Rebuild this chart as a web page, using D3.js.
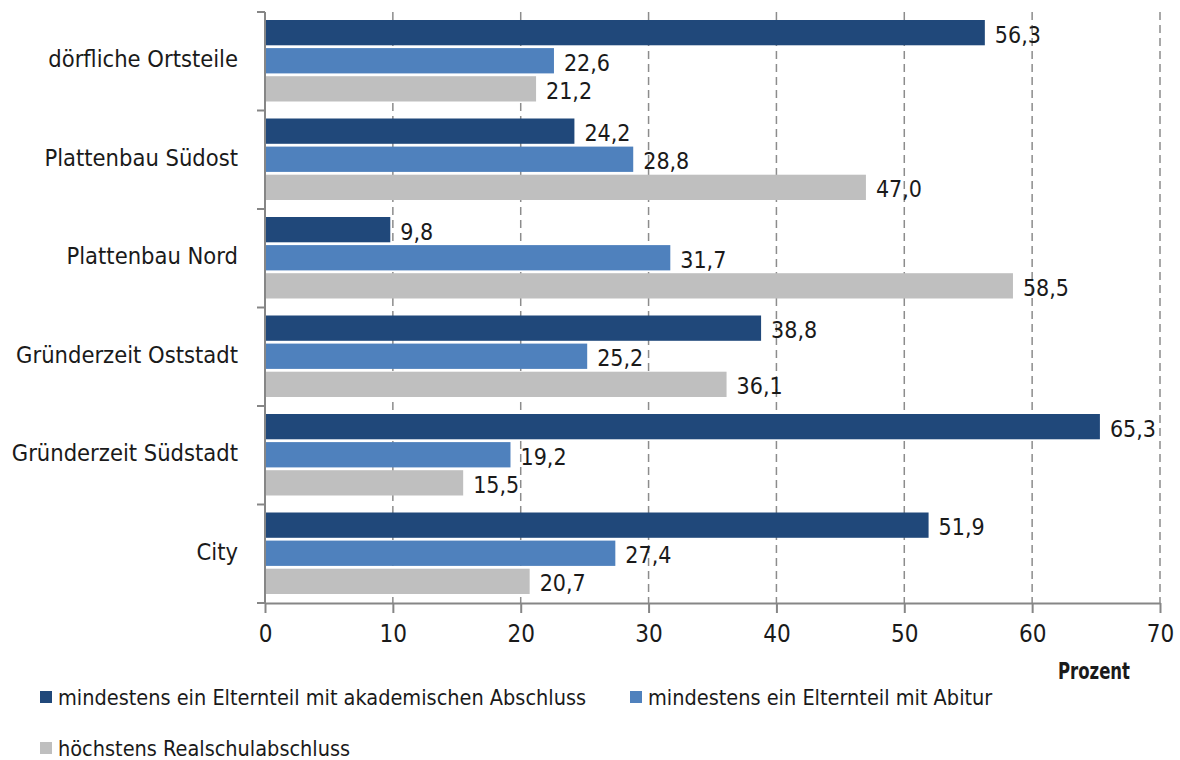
<!DOCTYPE html>
<html>
<head>
<meta charset="utf-8">
<script src="https://cdn.jsdelivr.net/npm/d3@7"></script>
<style>
	body { margin: 0; background: #fff; }
	text { font-family: 'DejaVu Sans Condensed', 'Liberation Sans Narrow', sans-serif; fill: #1a1a1a; }
</style>
</head>
<body>
<div id="chart"></div>
<script>
const categories = [
	'dörfliche Ortsteile',
	'Plattenbau Südost',
	'Plattenbau Nord',
	'Gründerzeit Oststadt',
	'Gründerzeit Südstadt',
	'City'
]
const seriesNames = [
	'mindestens ein Elternteil mit akademischen Abschluss',
	'mindestens ein Elternteil mit Abitur',
	'höchstens Realschulabschluss'
]
const akademisch = [56.3, 24.2, 9.8, 38.8, 65.3, 51.9]
const abitur = [22.6, 28.8, 31.7, 25.2, 19.2, 27.4]
const realschule = [21.2, 47.0, 58.5, 36.1, 15.5, 20.7]
const xTicks = [0, 10, 20, 30, 40, 50, 60, 70]
const colors = ['#20487a', '#4f81bd', '#bfbfbf']

const seriesValues = [akademisch, abitur, realschule]

const width = 1180,
	height = 760
const margin = { top: 12, left: 265 }
const plotRight = 1160,
	plotBottom = 603

const svg = d3
	.select('#chart')
	.append('svg')
	.attr('width', width)
	.attr('height', height)

const x = d3.scaleLinear().domain([0, 70]).range([margin.left, plotRight])

const y = d3
	.scaleBand()
	.domain(categories)
	.range([margin.top, plotBottom])

const inner = d3
	.scaleBand()
	.domain(d3.range(3))
	.range([8, y.bandwidth() - 9])
	.paddingInner(0.1)

// dashed gridlines
svg.append('g')
	.selectAll('line')
	.data(xTicks.slice(1))
	.enter()
	.append('line')
	.attr('x1', d => x(d))
	.attr('x2', d => x(d))
	.attr('y1', margin.top)
	.attr('y2', plotBottom)
	.attr('stroke', '#8c8c8c')
	.attr('stroke-width', 1.5)
	.attr('stroke-dasharray', '8,5')

// bars
const groups = svg
	.append('g')
	.selectAll('g')
	.data(categories)
	.enter()
	.append('g')
	.attr('transform', d => `translate(0,${y(d)})`)

groups
	.selectAll('rect')
	.data((d, i) => seriesValues.map((s, k) => ({ k, value: s[i] })))
	.enter()
	.append('rect')
	.attr('x', x(0))
	.attr('y', d => inner(d.k))
	.attr('width', d => x(d.value) - x(0))
	.attr('height', inner.bandwidth())
	.attr('fill', d => colors[d.k])

groups
	.selectAll('text')
	.data((d, i) => seriesValues.map((s, k) => ({ k, value: s[i] })))
	.enter()
	.append('text')
	.attr('x', d => x(d.value) + 10)
	.attr('y', d => inner(d.k) + inner.bandwidth() / 2 + 2)
	.attr('dy', '0.35em')
	.attr('font-size', 23)
	.text(d => d.value.toFixed(1).replace('.', ','))

// y axis
const yAxis = svg.append('g').attr('transform', `translate(${margin.left},0)`)
yAxis
	.append('line')
	.attr('x1', 0)
	.attr('x2', 0)
	.attr('y1', margin.top)
	.attr('y2', plotBottom)
	.attr('stroke', '#868686')
	.attr('stroke-width', 2)
yAxis
	.selectAll('.tick')
	.data(categories.map(c => y(c)).concat([plotBottom]))
	.enter()
	.append('line')
	.attr('x1', -8)
	.attr('x2', 0)
	.attr('y1', d => d)
	.attr('y2', d => d)
	.attr('stroke', '#868686')
	.attr('stroke-width', 2)
yAxis
	.selectAll('text')
	.data(categories)
	.enter()
	.append('text')
	.attr('x', -27)
	.attr('y', d => y(d) + y.bandwidth() / 2 - 2)
	.attr('dy', '0.35em')
	.attr('text-anchor', 'end')
	.attr('font-size', 23.5)
	.text(d => d)

// x axis
const xAxis = svg
	.append('g')
	.attr('transform', `translate(0,${plotBottom})`)
	.call(
		d3
			.axisBottom(x)
			.tickValues(xTicks)
			.tickSize(10)
			.tickPadding(12)
			.tickSizeOuter(0)
	)
xAxis.select('.domain').attr('stroke', '#868686').attr('stroke-width', 2)
xAxis.selectAll('.tick line').attr('stroke', '#868686').attr('stroke-width', 2)
xAxis
	.selectAll('.tick text')
	.attr('font-size', 24)
	.attr('font-family', "'DejaVu Sans Condensed', sans-serif")
	.attr('fill', '#1a1a1a')

svg.append('text')
	.attr('x', 1058)
	.attr('y', 679)
	.attr('font-size', 23)
	.attr('font-weight', 'bold')
	.attr('textLength', 72)
	.attr('lengthAdjust', 'spacingAndGlyphs')
	.text('Prozent')

// legend
const legendPos = [
	{ x: 40, y: 697 },
	{ x: 630, y: 697 },
	{ x: 40, y: 748 }
]
const legend = svg
	.append('g')
	.selectAll('g')
	.data(seriesNames)
	.enter()
	.append('g')
	.attr('transform', (d, i) => `translate(${legendPos[i].x},${legendPos[i].y})`)
legend
	.append('rect')
	.attr('x', 0)
	.attr('y', -6)
	.attr('width', 12)
	.attr('height', 12)
	.attr('fill', (d, i) => colors[i])
legend
	.append('text')
	.attr('x', 18)
	.attr('y', 0)
	.attr('dy', '0.35em')
	.attr('font-size', 21.5)
	.text(d => d)
</script>
</body>
</html>
